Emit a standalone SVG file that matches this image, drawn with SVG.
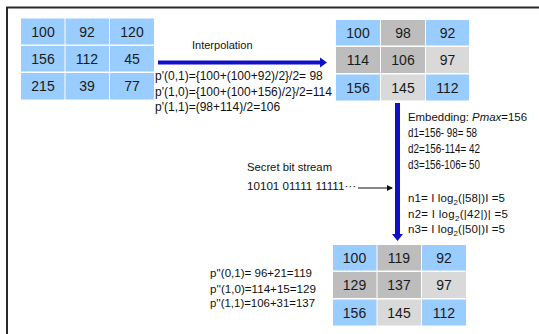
<svg xmlns="http://www.w3.org/2000/svg" width="539" height="334" viewBox="0 0 539 334">
<style>
.b{fill:#99ccff}
.dg{fill:#bdbdbd}
.lg{fill:#d9d9d9}
.n{font-family:"Liberation Sans",Arial,sans-serif;font-size:14px;fill:#1a1a1a;text-anchor:middle}
.t{font-family:"Liberation Sans",Arial,sans-serif;font-size:11px;fill:#111}
.f{font-size:12px}
.m{font-size:11.5px}
.arr{fill:#1010c8}
</style>
<defs>
<marker id="ah" markerWidth="6" markerHeight="6" refX="5" refY="3" orient="auto" markerUnits="userSpaceOnUse">
<path d="M0,0 L6,3 L0,6 Z" fill="#111"/>
</marker>
</defs>
<rect width="539" height="334" fill="#fff"/>
<path d="M7 334 V7.5 H539" fill="none" stroke="#2a2a2a" stroke-width="2"/>

<g id="grid-original">
<rect class="b" x="21" y="18.5" width="43.5" height="26"/>
<rect class="b" x="65.5" y="18.5" width="43.5" height="26"/>
<rect class="b" x="110" y="18.5" width="44" height="26"/>
<rect class="b" x="21" y="46" width="43.5" height="25.5"/>
<rect class="b" x="65.5" y="46" width="43.5" height="25.5"/>
<rect class="b" x="110" y="46" width="44" height="25.5"/>
<rect class="b" x="21" y="73" width="43.5" height="26.5"/>
<rect class="b" x="65.5" y="73" width="43.5" height="26.5"/>
<rect class="b" x="110" y="73" width="44" height="26.5"/>
<text class="n" x="43" y="36.5">100</text>
<text class="n" x="87" y="36.5">92</text>
<text class="n" x="132" y="36.5">120</text>
<text class="n" x="43" y="63.5">156</text>
<text class="n" x="87" y="63.5">112</text>
<text class="n" x="132" y="63.5">45</text>
<text class="n" x="43" y="91">215</text>
<text class="n" x="87" y="91">39</text>
<text class="n" x="132" y="91">77</text>
</g>

<g id="grid-interpolated">
<rect class="b" x="336" y="20" width="44" height="25.5"/>
<rect class="dg" x="381" y="20" width="44" height="25.5"/>
<rect class="b" x="426" y="20" width="43" height="25.5"/>
<rect class="dg" x="336" y="47" width="44" height="26"/>
<rect class="dg" x="381" y="47" width="44" height="26"/>
<rect class="lg" x="426" y="47" width="43" height="26"/>
<rect class="b" x="336" y="74.5" width="44" height="26"/>
<rect class="lg" x="381" y="74.5" width="44" height="26"/>
<rect class="b" x="426" y="74.5" width="43" height="26"/>
<text class="n" x="358" y="38">100</text>
<text class="n" x="403" y="38">98</text>
<text class="n" x="447.5" y="38">92</text>
<text class="n" x="358" y="65">114</text>
<text class="n" x="403" y="65">106</text>
<text class="n" x="447.5" y="65">97</text>
<text class="n" x="358" y="92.5">156</text>
<text class="n" x="403" y="92.5">145</text>
<text class="n" x="447.5" y="92.5">112</text>
</g>

<g id="grid-embedded">
<rect class="b" x="333" y="245" width="43.5" height="25.5"/>
<rect class="dg" x="377.5" y="245" width="43.5" height="25.5"/>
<rect class="b" x="422" y="245" width="44" height="25.5"/>
<rect class="dg" x="333" y="272" width="43.5" height="26"/>
<rect class="dg" x="377.5" y="272" width="43.5" height="26"/>
<rect class="lg" x="422" y="272" width="44" height="26"/>
<rect class="b" x="333" y="299.5" width="43.5" height="26"/>
<rect class="lg" x="377.5" y="299.5" width="43.5" height="26"/>
<rect class="b" x="422" y="299.5" width="44" height="26"/>
<text class="n" x="354.5" y="263">100</text>
<text class="n" x="399" y="263">119</text>
<text class="n" x="444" y="263">92</text>
<text class="n" x="354.5" y="290">129</text>
<text class="n" x="399" y="290">137</text>
<text class="n" x="444" y="290">97</text>
<text class="n" x="354.5" y="317.5">156</text>
<text class="n" x="399" y="317.5">145</text>
<text class="n" x="444" y="317.5">112</text>
</g>

<g id="connectors">
<polygon class="arr" points="158,60.5 320,60.5 320,57.5 327,62.5 320,67.5 320,64.5 158,64.5"/>
<polygon class="arr" points="395,103 400,103 400,234 403,234 397.5,241 392,234 395,234"/>
<line x1="358" y1="188" x2="392" y2="188" stroke="#111" stroke-width="1" marker-end="url(#ah)"/>
</g>

<g id="labels">
<text class="t" x="192" y="49">Interpolation</text>
<text class="t f" x="155" y="79.5">p'(0,1)={100+(100+92)/2}/2= 98</text>
<text class="t f" x="155" y="95.5">p'(1,0)={100+(100+156)/2}/2=114</text>
<text class="t f" x="155" y="111">p'(1,1)=(98+114)/2=106</text>
<text class="t m" x="408" y="121" textLength="119" lengthAdjust="spacingAndGlyphs">Embedding: <tspan font-style="italic">Pmax</tspan>=156</text>
<text class="t f" x="408" y="137" textLength="69" lengthAdjust="spacingAndGlyphs">d1=156- 98= 58</text>
<text class="t f" x="408" y="153" textLength="72" lengthAdjust="spacingAndGlyphs">d2=156-114= 42</text>
<text class="t f" x="408" y="169" textLength="72" lengthAdjust="spacingAndGlyphs">d3=156-106= 50</text>
<text class="t m" x="408" y="202" textLength="97">n1= I log<tspan dy="3" font-size="8">2</tspan><tspan dy="-3">(|58|)I =5</tspan></text>
<text class="t m" x="408" y="218" textLength="100">n2= I log<tspan dy="3" font-size="8">2</tspan><tspan dy="-3">(|42|)| =5</tspan></text>
<text class="t m" x="408" y="233" textLength="97">n3= I log<tspan dy="3" font-size="8">2</tspan><tspan dy="-3">(|50|)I =5</tspan></text>
<text class="t m" x="247" y="171" textLength="85" lengthAdjust="spacingAndGlyphs">Secret bit stream</text>
<text class="t m" x="247" y="190" textLength="109" lengthAdjust="spacingAndGlyphs">10101 01111 11111···</text>
<text class="t m" x="210" y="277" textLength="102" lengthAdjust="spacingAndGlyphs">p''(0,1)= 96+21=119</text>
<text class="t m" x="210" y="292.5" textLength="106" lengthAdjust="spacingAndGlyphs">p''(1,0)=114+15=129</text>
<text class="t m" x="210" y="307" textLength="105" lengthAdjust="spacingAndGlyphs">p''(1,1)=106+31=137</text>
</g>
</svg>
